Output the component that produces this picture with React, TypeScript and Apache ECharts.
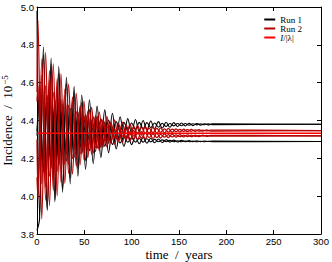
import React, { useEffect, useRef } from 'react';
import * as echarts from 'echarts';

// Extremum times (years) for Run 1 traces
const T1: number[] = [0, 2.7, 6.8, 10.8, 14.9, 18.9, 23.0, 27.0, 31.1, 35.1, 39.2, 43.2, 47.3, 51.3, 55.4, 59.4, 63.5, 67.5, 71.6, 75.6, 79.7, 83.7, 87.8, 91.8, 95.9, 99.9, 104.0, 108.0, 112.1, 116.1, 120.2, 124.2, 128.3, 132.3, 136.4, 140.4, 144.5, 148.5, 152.6, 156.6, 160.7, 164.7, 168.8, 172.8, 176.9, 180.9, 185.0, 300];
// Extremum times (years) for Run 2 traces
const T2: number[] = [0, 1.0, 5.1, 9.1, 13.2, 17.2, 21.3, 25.3, 29.4, 33.4, 37.5, 41.5, 45.6, 49.6, 53.7, 57.7, 61.8, 65.8, 69.9, 73.9, 78.0, 82.0, 86.1, 90.1, 94.2, 98.2, 102.3, 106.3, 110.4, 114.4, 118.5, 122.5, 126.6, 130.6, 134.7, 138.7, 142.8, 146.8, 150.9, 154.9, 159.0, 163.0, 167.1, 171.1, 175.2, 179.2, 183.3, 300];

// Run 1 (black) incidence traces, units of 1e-5
const run1Upper: number[] = [4.98, 3.895, 4.79, 3.93, 4.73, 3.98, 4.686, 4.037, 4.63, 4.094, 4.58, 4.146, 4.535, 4.188, 4.51, 4.227, 4.477, 4.257, 4.456, 4.28, 4.438, 4.303, 4.42, 4.32, 4.41, 4.332, 4.405, 4.341, 4.40, 4.349, 4.397, 4.355, 4.394, 4.36, 4.391, 4.3645, 4.389, 4.368, 4.387, 4.371, 4.385, 4.373, 4.384, 4.3755, 4.383, 4.3765, 4.382, 4.38];
const run1UpperB: number[] = [4.345, 4.548, 4.145, 4.532, 4.172, 4.508, 4.192, 4.487, 4.221, 4.464, 4.2465, 4.443, 4.271, 4.43, 4.289, 4.42, 4.309, 4.409, 4.321, 4.402, 4.332, 4.394, 4.343, 4.39, 4.35, 4.387, 4.352, 4.39, 4.357, 4.389, 4.362, 4.387, 4.3645, 4.3856, 4.3686, 4.3845, 4.3714, 4.384, 4.3726, 4.3838, 4.3748, 4.3826, 4.377, 4.3827, 4.3776, 4.3821, 4.3782, 4.38];
const run1Lower: number[] = [3.82, 3.88, 4.75, 3.925, 4.70, 3.97, 4.651, 4.02, 4.599, 4.065, 4.552, 4.105, 4.495, 4.142, 4.458, 4.172, 4.423, 4.205, 4.392, 4.23, 4.366, 4.25, 4.343, 4.264, 4.327, 4.272, 4.316, 4.277, 4.3105, 4.28, 4.306, 4.282, 4.302, 4.284, 4.299, 4.2855, 4.2965, 4.2865, 4.295, 4.2875, 4.2935, 4.288, 4.2928, 4.2885, 4.2915, 4.289, 4.2908, 4.289];
const run1LowerB: number[] = [4.32, 4.518, 4.1265, 4.496, 4.147, 4.473, 4.165, 4.448, 4.186, 4.425, 4.204, 4.404, 4.227, 4.384, 4.2405, 4.368, 4.253, 4.35, 4.264, 4.336, 4.273, 4.324, 4.281, 4.315, 4.285, 4.308, 4.2855, 4.3065, 4.2857, 4.3032, 4.2868, 4.3004, 4.2876, 4.2976, 4.2878, 4.2951, 4.2877, 4.2932, 4.2878, 4.2918, 4.2879, 4.2909, 4.2879, 4.2899, 4.288, 4.2894, 4.2881, 4.289];

// Run 2 (dark red) incidence traces
const run2Upper: number[] = [4.55, 4.93, 3.88, 4.76, 3.95, 4.70, 4.002, 4.647, 4.067, 4.592, 4.117, 4.544, 4.166, 4.503, 4.203, 4.469, 4.235, 4.444, 4.26, 4.421, 4.281, 4.403, 4.297, 4.391, 4.308, 4.381, 4.317, 4.373, 4.323, 4.368, 4.328, 4.3645, 4.3314, 4.3608, 4.3345, 4.3583, 4.337, 4.3558, 4.3392, 4.3539, 4.3407, 4.3526, 4.342, 4.3514, 4.3432, 4.3505, 4.3439, 4.347];
const run2UpperB: number[] = [4.3, 4.04, 4.64, 4.046, 4.613, 4.088, 4.58, 4.1285, 4.5345, 4.167, 4.4995, 4.204, 4.469, 4.233, 4.443, 4.2565, 4.424, 4.277, 4.406, 4.2935, 4.3915, 4.308, 4.382, 4.316, 4.374, 4.323, 4.368, 4.329, 4.364, 4.332, 4.36, 4.335, 4.358, 4.3373, 4.3558, 4.3391, 4.354, 4.3408, 4.3525, 4.3422, 4.3514, 4.3431, 4.3505, 4.3439, 4.3497, 4.3445, 4.3492, 4.347];
const run2Lower: number[] = [4.1, 3.985, 4.725, 3.978, 4.665, 4.029, 4.621, 4.073, 4.566, 4.12, 4.523, 4.158, 4.479, 4.193, 4.448, 4.222, 4.418, 4.241, 4.397, 4.26, 4.379, 4.273, 4.3635, 4.284, 4.354, 4.292, 4.3465, 4.299, 4.341, 4.303, 4.337, 4.304, 4.3323, 4.3073, 4.3296, 4.3094, 4.3275, 4.3115, 4.3256, 4.3131, 4.3244, 4.3142, 4.3233, 4.3153, 4.3222, 4.316, 4.3216, 4.319];
const run2LowerB: number[] = [4.5, 4.585, 4.065, 4.585, 4.104, 4.549, 4.13, 4.513, 4.168, 4.481, 4.198, 4.447, 4.222, 4.4225, 4.244, 4.402, 4.258, 4.382, 4.273, 4.369, 4.2855, 4.3546, 4.291, 4.347, 4.298, 4.341, 4.303, 4.3364, 4.307, 4.3336, 4.3098, 4.3295, 4.3097, 4.3272, 4.3116, 4.3257, 4.313, 4.3243, 4.3144, 4.3231, 4.3152, 4.3224, 4.316, 4.3216, 4.3168, 4.3211, 4.3172, 4.319];

// I/|lambda| equilibrium level
const eqTimes: number[] = [0, 300];
const eqValues: number[] = [4.333, 4.333];

const legendNames: string[] = ['Run 1', 'Run 2', 'I/|λ|'];

const zip = (t: number[], v: number[]) => v.map((y, i) => [t[i], y]);

const SERIF = '"Liberation Serif", "DejaVu Serif", serif';
const SANS = '"Liberation Sans", Arial, sans-serif';
const BLACK = '#000000';
const DARKRED = '#b40000';
const RED = '#ff0000';
const NB = '\u00a0';

export default function App() {
  const ref = useRef<HTMLDivElement>(null);
  useEffect(() => {
    if (!ref.current) return;
    const chart = echarts.init(ref.current, null, { renderer: 'svg' });
    const lineSeries = (name: string, t: number[], v: number[], color: string, width = 1.1) => ({
      name,
      type: 'line',
      data: zip(t, v),
      showSymbol: false,
      symbol: 'none',
      smooth: 0.35,
      silent: true,
      lineStyle: { color, width },
      itemStyle: { color },
      emphasis: { disabled: true },
    });
    const axisCommon = {
      axisLine: { show: true, onZero: false, lineStyle: { color: BLACK, width: 1 } },
      axisTick: { show: true, inside: true, length: 4, lineStyle: { color: BLACK } },
      splitLine: { show: false },
    };
    chart.setOption({
      animation: false,
      backgroundColor: '#ffffff',
      grid: { left: 37, right: 11, top: 7, bottom: 28, containLabel: false, outerBoundsMode: 'none' },
      legend: {
        data: legendNames,
        orient: 'vertical',
        right: 25,
        top: 10,
        itemGap: 0,
        itemWidth: 11,
        itemHeight: 2,
        icon: 'rect',
        selectedMode: false,
        formatter: (name: string) => (name === 'I/|λ|' ? '{it|I}/|λ|' : name),
        textStyle: {
          fontFamily: SERIF,
          fontSize: 9,
          lineHeight: 8.5,
          color: BLACK,
          rich: { it: { fontFamily: SERIF, fontSize: 9, lineHeight: 8.5, fontStyle: 'italic', color: BLACK } },
        },
      },
      xAxis: [
        {
          type: 'value',
          min: 0,
          max: 300,
          interval: 50,
          position: 'bottom',
          name: `time${NB}${NB}/${NB}${NB}years`,
          nameLocation: 'middle',
          nameGap: 13.5,
          nameMoveOverlap: false,
          nameTextStyle: { fontFamily: SERIF, fontSize: 13, color: BLACK },
          axisLabel: { fontFamily: SANS, fontSize: 9.5, color: BLACK, margin: 2 },
          ...axisCommon,
        },
        {
          type: 'value',
          min: 0,
          max: 300,
          interval: 50,
          position: 'top',
          axisLabel: { show: false },
          ...axisCommon,
        },
      ],
      yAxis: [
        {
          type: 'value',
          min: 3.8,
          max: 5.0,
          interval: 0.2,
          position: 'left',
          name: `Incidence${NB}${NB}/${NB}${NB}10{sup|−5}`,
          nameLocation: 'middle',
          nameGap: 22,
          nameMoveOverlap: false,
          nameTextStyle: {
            fontFamily: SERIF,
            fontSize: 13,
            color: BLACK,
            rich: { sup: { fontFamily: SERIF, fontSize: 9, color: BLACK, verticalAlign: 'top', padding: [0, 0, 6, 1] } },
          },
          axisLabel: { fontFamily: SANS, fontSize: 9.5, color: BLACK, margin: 3, formatter: (v: number) => v.toFixed(1) },
          ...axisCommon,
        },
        {
          type: 'value',
          min: 3.8,
          max: 5.0,
          interval: 0.2,
          position: 'right',
          axisLabel: { show: false },
          ...axisCommon,
        },
      ],
      series: [
        lineSeries('Run 1', T1, run1Upper, BLACK),
        lineSeries('Run 1', T1, run1Lower, BLACK),
        lineSeries('Run 1', T1, run1UpperB, BLACK),
        lineSeries('Run 1', T1, run1LowerB, BLACK),
        lineSeries('Run 2', T2, run2Upper, DARKRED, 1.25),
        lineSeries('Run 2', T2, run2Lower, DARKRED, 1.25),
        lineSeries('Run 2', T2, run2UpperB, DARKRED, 1.25),
        lineSeries('Run 2', T2, run2LowerB, DARKRED, 1.25),
        lineSeries('I/|λ|', eqTimes, eqValues, RED, 1.5),
      ],
    });
    return () => chart.dispose();
  }, []);
  return (
    <div
      ref={ref}
      style={{ position: 'absolute', left: 0, top: 0, width: 332, height: 262, background: '#fff' }}
    />
  );
}
